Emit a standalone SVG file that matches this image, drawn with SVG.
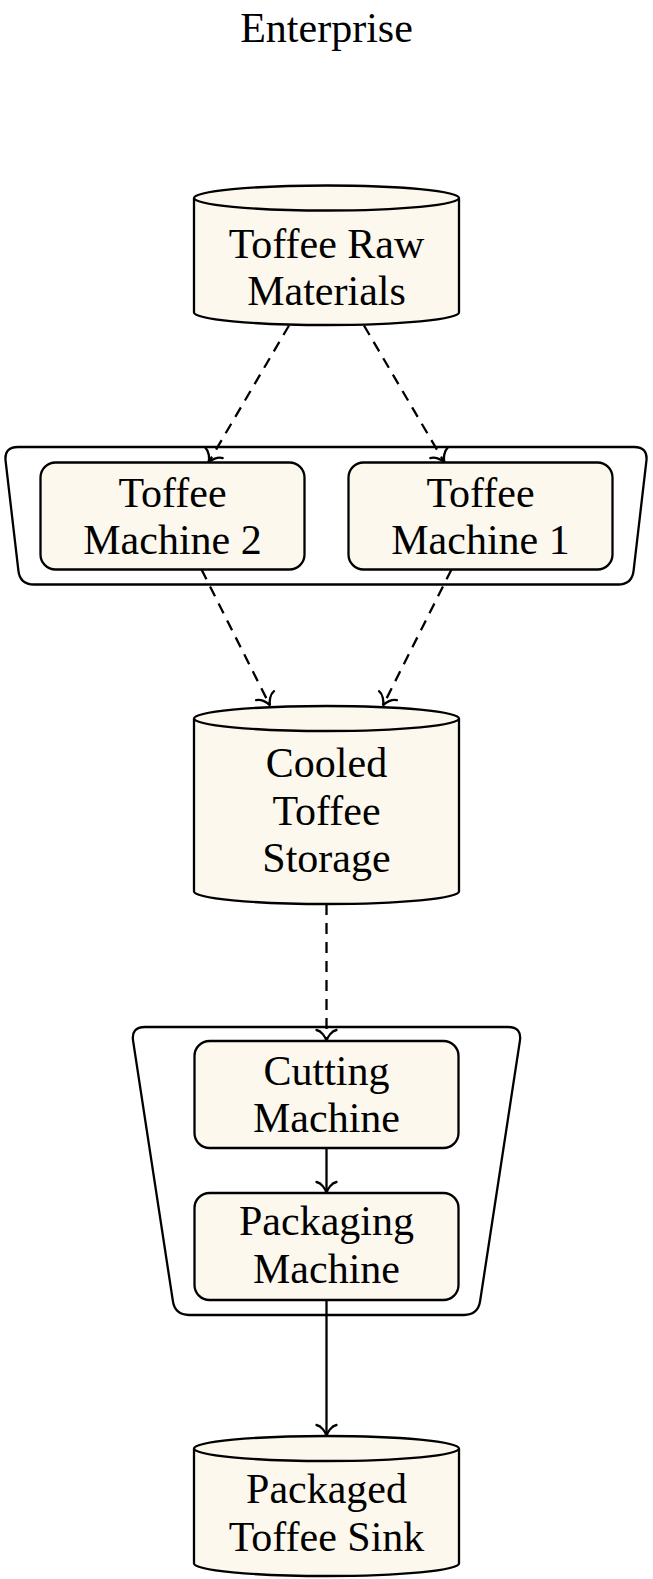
<svg xmlns="http://www.w3.org/2000/svg" width="653" height="1579" viewBox="0 0 653 1579">
<style>
.t{font-family:"Liberation Serif","Times New Roman",serif;font-size:42px;fill:#000;text-anchor:middle}
.n{fill:#fcf8ed;stroke:#000;stroke-width:2.3}
.g{fill:none;stroke:#000;stroke-width:2.3}
.e{fill:none;stroke:#000;stroke-width:2.3}
.d{stroke-dasharray:11 8}
</style>
<defs>
<marker id="ah" markerUnits="userSpaceOnUse" markerWidth="30" markerHeight="30" refX="0" refY="0" viewBox="-15 -15 30 30" orient="auto" overflow="visible">
<path d="M-11,-10 C-10,-5 -4,-1 0,0 C-4,1 -10,5 -11,10" fill="none" stroke="#000" stroke-width="2.3" stroke-linecap="round"/>
</marker>
</defs>
<text class="t" x="326.5" y="42">Enterprise</text>
<g id="group1"><path class="g" d="M18,447 L634,447 Q648,447 646.4,460.9 L633.6,570.6 Q632,584.5 618,584.5 L34,584.5 Q20,584.5 18.4,570.6 L5.6,460.9 Q4,447 18,447 Z"/></g>
<g id="group2"><path class="g" d="M145,1027 L508,1027 Q522,1027 519.9,1040.8 L480.1,1301.2 Q478,1315 464,1315 L189,1315 Q175,1315 172.9,1301.2 L133.1,1040.8 Q131,1027 145,1027 Z"/></g>
<g id="raw">
<path class="n" d="M194,198 A132.5,12.5 0 0 1 459,198 L459,312.5 A132.5,12.5 0 0 1 194,312.5 Z"/>
<path class="e" d="M194,198 A132.5,12.5 0 0 0 459,198"/>
<text class="t" x="326.5" y="258">Toffee Raw</text>
<text class="t" x="326.5" y="305">Materials</text>
</g>
<g id="tm2">
<rect class="n" x="40.5" y="462.5" width="264" height="107" rx="15"/>
<text class="t" x="172.5" y="507">Toffee</text>
<text class="t" x="172.5" y="554">Machine 2</text>
</g>
<g id="tm1">
<rect class="n" x="348.5" y="462.5" width="264" height="107" rx="15"/>
<text class="t" x="480.5" y="507">Toffee</text>
<text class="t" x="480.5" y="554">Machine 1</text>
</g>
<g id="cooled">
<path class="n" d="M194,718.5 A132.5,12.5 0 0 1 459,718.5 L459,891.5 A132.5,12.5 0 0 1 194,891.5 Z"/>
<path class="e" d="M194,718.5 A132.5,12.5 0 0 0 459,718.5"/>
<text class="t" x="326.5" y="777">Cooled</text>
<text class="t" x="326.5" y="825">Toffee</text>
<text class="t" x="326.5" y="872">Storage</text>
</g>
<g id="cutting">
<rect class="n" x="194.5" y="1041" width="264" height="107" rx="15"/>
<text class="t" x="326.5" y="1085">Cutting</text>
<text class="t" x="326.5" y="1132">Machine</text>
</g>
<g id="packaging">
<rect class="n" x="194.5" y="1193" width="264" height="107" rx="15"/>
<text class="t" x="326.5" y="1235">Packaging</text>
<text class="t" x="326.5" y="1283">Machine</text>
</g>
<g id="sink">
<path class="n" d="M194,1448.5 A132.5,12.5 0 0 1 459,1448.5 L459,1563.5 A132.5,12.5 0 0 1 194,1563.5 Z"/>
<path class="e" d="M194,1448.5 A132.5,12.5 0 0 0 459,1448.5"/>
<text class="t" x="326.5" y="1503">Packaged</text>
<text class="t" x="326.5" y="1551">Toffee Sink</text>
</g>
<g id="connectors" fill="none" stroke="#000" stroke-width="2.3">
<path class="d" d="M289,325.5 L208.5,462.5" marker-end="url(#ah)"/>
<path class="d" d="M364,325.5 L444.5,462.5" marker-end="url(#ah)"/>
<path class="d" d="M201.5,569.5 L270,705.5" marker-end="url(#ah)"/>
<path class="d" d="M451.5,569.5 L383,705.5" marker-end="url(#ah)"/>
<path class="d" d="M326.5,904 L326.5,1041" marker-end="url(#ah)"/>
<path d="M326.5,1148 L326.5,1193" marker-end="url(#ah)"/>
<path d="M326.5,1300 L326.5,1436" marker-end="url(#ah)"/>
</g>
</svg>
